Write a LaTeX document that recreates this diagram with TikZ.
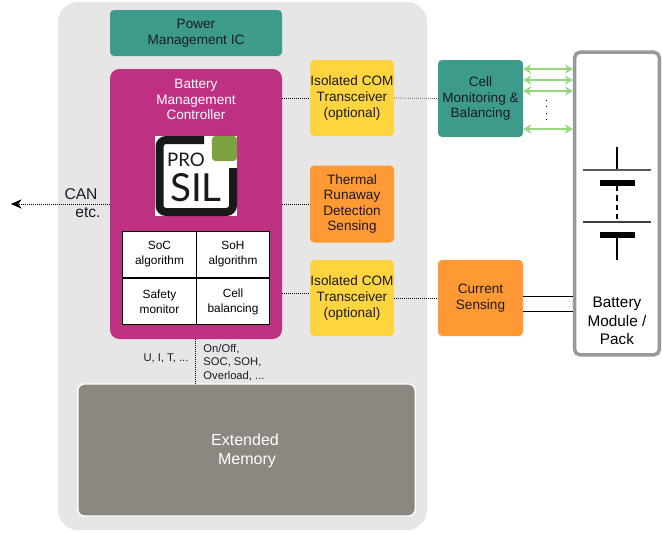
\documentclass[tikz,border=0pt]{standalone}
\usepackage{fontspec}
\setmainfont{Liberation Sans}
\newfontfamily\logofont{Lato}
\usetikzlibrary{arrows.meta}
\definecolor{shell}{HTML}{E6E6E6}
\definecolor{tealbox}{HTML}{3D9B8C}
\definecolor{magentabox}{HTML}{BE3082}
\definecolor{yellowbox}{HTML}{FFD53F}
\definecolor{orangebox}{HTML}{FF9933}
\definecolor{memorybox}{HTML}{8C8781}
\definecolor{linkgreen}{HTML}{97D77F}
\definecolor{logogreen}{HTML}{7BA23F}
\definecolor{inktext}{HTML}{1A1A2A}
\tikzset{
  block/.style={rounded corners=3pt,inner sep=0pt,align=center,text=inktext,
    font=\fontsize{10.2}{11.7}\selectfont},
  cell/.style={draw=black,line width=0.8pt,fill=white,minimum width=55pt,minimum height=35pt,
    inner sep=0pt,align=center,font=\fontsize{8.9}{11.2}\selectfont},
  note/.style={inner sep=0pt,align=left,text=inktext,font=\fontsize{8.4}{10.2}\selectfont},
  signal/.style={densely dotted,line width=0.5pt},
  cellink/.style={<->,>={Stealth[length=6pt,width=7pt]},draw=linkgreen,line width=0.9pt}
}
\begin{document}
\begin{tikzpicture}[x=0.75pt,y=-0.75pt]
  \useasboundingbox (0,0) rectangle (662,533);
  \node[fill=shell,rounded corners=15pt,minimum width=276.75pt,minimum height=396pt,inner sep=0pt] (shell) at (242.5,266) {};
  \node[block,fill=tealbox,minimum width=129pt,minimum height=34.5pt] (power) at (196,33) {Power\\Management IC};
  \node[block,fill=magentabox,rounded corners=7pt,minimum width=129pt,minimum height=202.5pt] (bmc) at (196,204) {};
  \node[text=white,inner sep=0pt,align=center,font=\fontsize{10.2}{11.9}\selectfont] (bmctext) at (196,99.5) {Battery\\Management\\Controller};
  % logo
  \node[fill=white,minimum width=61.5pt,minimum height=60pt,inner sep=0pt] (logo) at (196,176) {};
  \draw[line width=6pt,rounded corners=5pt,black!90] (204,140) -- (159.5,140) -- (159.5,212) -- (233,212) -- (233,168);
  \node[fill=logogreen,rounded corners=3pt,minimum width=19pt,minimum height=19pt,inner sep=0pt] (logomark) at (224.5,148.5) {};
  \node[inner sep=0pt,text=black!90,font=\logofont\fontsize{14}{15}\selectfont] (logopro) at (186,159.5) {PRO};
  \node[inner sep=0pt,text=black!90,font=\logofont\fontsize{29}{30}\selectfont] (logosil) at (196,188) {SIL};
  % function table
  \node[cell] (soc) at (159.5,254.5) {SoC\\algorithm};
  \node[cell] (soh) at (233,254.5) {SoH\\algorithm};
  \node[cell] (safety) at (159.5,301.5) {Safety\\monitor};
  \node[cell] (balance) at (233,301.5) {Cell\\balancing};
  \node[block,fill=yellowbox,minimum width=63pt,minimum height=57pt] (comtop) at (352,98) {Isolated COM\\Transceiver\\(optional)};
  \node[block,fill=orangebox,minimum width=63pt,minimum height=57.75pt] (thermal) at (352,204) {Thermal\\Runaway\\Detection\\Sensing};
  \node[block,fill=yellowbox,minimum width=63pt,minimum height=57pt] (combot) at (352,298) {Isolated COM\\Transceiver\\(optional)};
  \node[block,fill=tealbox,minimum width=63.75pt,minimum height=57.75pt] (cellmon) at (480.5,98.5) {Cell\\Monitoring \&\\Balancing};
  \node[block,fill=orangebox,minimum width=63.75pt,minimum height=57pt] (current) at (480.5,298) {Current\\Sensing};
  \node[draw=black!40,line width=2.6pt,fill=white,rounded corners=4pt,minimum width=63.5pt,minimum height=227pt,inner sep=0pt] (pack) at (617,203.5) {};
  \node[inner sep=0pt,align=center,text=black,font=\fontsize{11.5}{13.9}\selectfont] (packtext) at (617,321) {Battery\\Module /\\Pack};
  \node[fill=memorybox,draw=white,line width=1pt,rounded corners=5pt,minimum width=253pt,minimum height=99pt,inner sep=0pt] (memory) at (246.5,450) {};
  \node[inner sep=0pt,text=white,align=center,font=\fontsize{12}{14.2}\selectfont] (memorytext) at (245,451) {Extended\\\hspace{3pt}Memory};
  \node[inner sep=0pt,text=inktext,font=\fontsize{11.7}{12}\selectfont] (can) at (81,194) {CAN};
  \node[inner sep=0pt,text=inktext,font=\fontsize{11.7}{12}\selectfont] (etc) at (88,213) {etc.};
  \node[note] (uit) at (166,358) {U, I, T, ...};
  \node[note] (flags) at (234,362.5) {On/Off,\\SOC, SOH,\\Overload, ...};
  \coordinate (canend) at (11,204);
  \coordinate (dotstop) at (546,123);
  \coordinate (dotstart) at (546,100);
  % links
  \draw[signal,-{Stealth[length=8pt,width=7pt]}] (bmc.west) -- (canend);
  \draw[signal] (bmc.east |- comtop) -- (comtop.west);
  \draw[signal] (comtop.east) -- (cellmon.west);
  \draw[signal] (bmc.east) -- (thermal.west);
  \draw[signal] (bmc.east |- 0,293) -- (combot.west |- 0,293);
  \draw[signal] (combot.east) -- (current.west);
  \draw[signal] (bmc.south -| soh.west) -- (memory.north -| soh.west);
  \draw[dotted,line width=0.6pt,dash pattern=on 0.8pt off 4pt] (dotstart) -- (dotstop);
  \foreach \ypos in {69,80,91,129}
    \draw[cellink] (cellmon.east |- 0,\ypos) -- (pack.west |- 0,\ypos);
  \draw[line width=0.7pt] (current.east |- 0,296) -- (pack.west |- 0,296);
  \draw[line width=0.7pt] (current.east |- 0,311) -- (pack.west |- 0,311);
  % battery symbol
  \coordinate (batttop) at (617,147);
  \coordinate (battbot) at (617,260);
  \draw[line width=0.8pt] (batttop) -- (617,170);
  \draw[line width=1pt,black!65] (583,170) -- (651,170);
  \draw[line width=4.5pt] (600,183) -- (635,183);
  \draw[line width=0.8pt,dash pattern=on 4pt off 3pt] (617,186) -- (617,222);
  \draw[line width=1pt,black!75] (583,222) -- (651,222);
  \draw[line width=4.5pt] (600,235) -- (635,235);
  \draw[line width=0.8pt] (617,235) -- (battbot);
\end{tikzpicture}
\end{document}
